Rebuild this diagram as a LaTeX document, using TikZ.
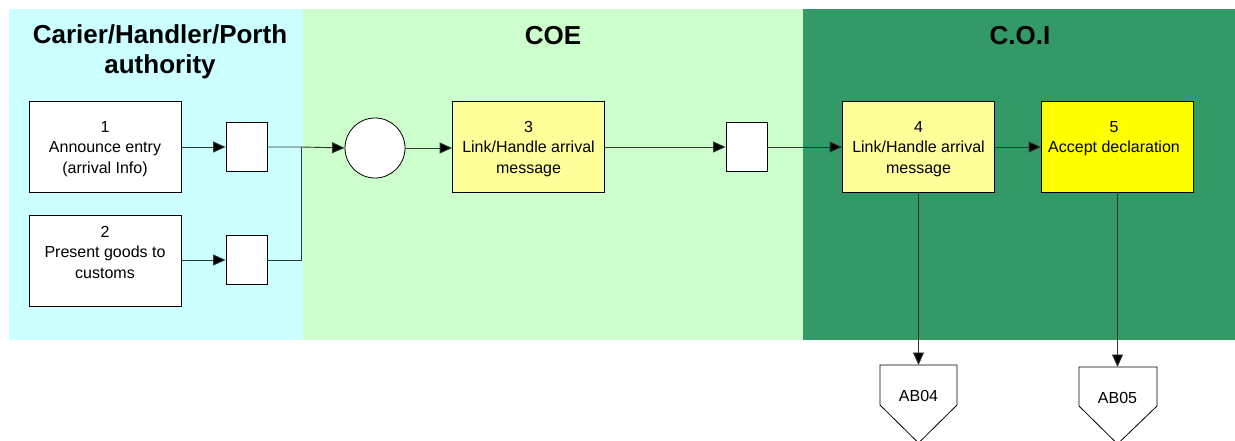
\documentclass[tikz,border=0pt]{standalone}
\usepackage{fontspec}
\setmainfont{Liberation Sans}
\usetikzlibrary{arrows.meta}
\definecolor{lanecarrier}{HTML}{CCFFFF}
\definecolor{lanecoe}{HTML}{CCFFCC}
\definecolor{lanecoi}{HTML}{339966}
\definecolor{taskpale}{HTML}{FFFF99}
\definecolor{taskbright}{HTML}{FFFF00}
\definecolor{wire}{HTML}{303830}
\tikzset{
  lanetitle/.style={font=\fontsize{26}{30}\selectfont\bfseries, align=center, text=black},
  taskbox/.style={draw=black, line width=0.8pt, fill=white, minimum width=152pt, minimum height=91pt, inner sep=0pt},
  tasktext/.style={font=\fontsize{16}{20.5}\selectfont, align=center, inner sep=0pt},
  docbox/.style={draw=black, line width=0.8pt, fill=white, minimum width=41pt, minimum height=49pt, inner sep=0pt},
  eventnode/.style={circle, draw=black, line width=0.8pt, fill=white, minimum size=60pt, inner sep=0pt},
  flow/.style={draw=wire, line width=0.9pt, -{Triangle[length=12.5pt,width=11pt,fill=black]}},
  plainwire/.style={draw=wire, line width=0.9pt},
  offpage/.style={draw=black, line width=0.8pt, fill=white}
}
\begin{document}
\begin{tikzpicture}[x=1pt,y=-1pt]
\useasboundingbox (0,0) rectangle (1235,441);
\fill[white] (0,0) rectangle (1235,441);

% swim lanes
\fill[lanecarrier] (9,9) rectangle (303,340);
\fill[lanecoe] (303,9) rectangle (803,340);
\fill[lanecoi] (803,9) rectangle (1235,340);

\node[lanetitle] (t1) at (160,52) {Carier/Handler/Porth\\authority};
\node[lanetitle] (t2) at (553,36) {COE};
\node[lanetitle] (t3) at (1020,36) {C.O.I};

% tasks
\node[taskbox] (b1) at (105,146.5) {};
\node[tasktext] (b1t) at (105,149) {1\\Announce entry\\(arrival Info)};
\node[taskbox] (b2) at (105,260.5) {};
\node[tasktext] (b2t) at (105,252) {2\\Present goods to\\customs};
\node[taskbox, fill=taskpale] (b3) at (528.5,146.5) {};
\node[tasktext] (b3t) at (528.5,149) {3\\Link/Handle arrival\\message};
\node[taskbox, fill=taskpale] (b4) at (918.5,146.5) {};
\node[tasktext] (b4t) at (918.5,149) {4\\Link/Handle arrival\\message};
\node[taskbox, fill=taskbright] (b5) at (1117.5,146.5) {};
\node[tasktext] (b5t) at (1114,138.5) {5\\Accept declaration};

% messages and event
\node[docbox] (s1) at (246.5,146.5) {};
\node[docbox] (s2) at (246.5,260) {};
\node[docbox] (s3) at (746.5,147) {};
\node[eventnode] (ev) at (375,148) {};

% off-page connectors
\coordinate (p4) at (918.5,365);
\coordinate (p5) at (1117.5,367);
\draw[offpage] (880,365) -- (957,365) -- (957,405) -- (918.5,443) -- (880,405) -- cycle;
\draw[offpage] (1079,367) -- (1157,367) -- (1157,406) -- (1117.5,444) -- (1079,406) -- cycle;
\node[tasktext] (ab4) at (918.5,396) {AB04};
\node[tasktext] (ab5) at (1117.5,398) {AB05};

% flows
\coordinate (jn) at (301,147);
\draw[flow] (b1.east |- 0,147) -- (s1.west |- 0,147);
\draw[flow] (b2.east |- 0,260) -- (s2.west);
\draw[flow] (s1.east |- jn) -- (jn) -- (ev.west);
\draw[plainwire] (s2.east) -| (jn);
\draw[flow] (ev.east) -- (b3.west |- ev.east);
\draw[flow] (b3.east |- s3.west) -- (s3.west);
\draw[flow] (s3.east) -- (b4.west |- s3.east);
\draw[flow] (b4.east |- s3.east) -- (b5.west |- s3.east);
\draw[flow] (b4.south) -- (p4);
\draw[flow] (b5.south) -- (p5);
\end{tikzpicture}
\end{document}
